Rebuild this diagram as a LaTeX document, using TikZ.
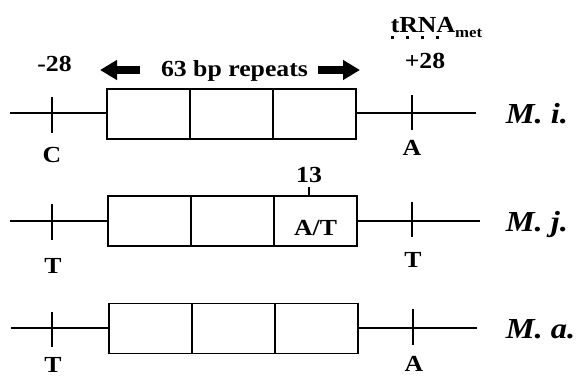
\documentclass[tikz,border=0pt]{standalone}
\usepackage{fontspec}
\setmainfont{Liberation Serif}[FakeStretch=1.12]
\usetikzlibrary{arrows.meta}
\newcommand{\lbfont}{\fontsize{23}{25}\selectfont\bfseries}
\newcommand{\spfont}{\fontsize{29}{31}\selectfont\bfseries\itshape}
\begin{document}
\begin{tikzpicture}[x=1pt,y=-1pt,line width=1.6pt,
  seg/.style={draw,fill=white,rectangle,minimum width=83pt,minimum height=50pt,inner sep=0pt},
  lbl/.style={font=\lbfont,inner sep=0pt,anchor=base},
  sp/.style={font=\spfont,inner sep=0pt,anchor=base west},
  bigarrow/.style={line width=8pt,-{Triangle[length=17pt,width=19pt]}},
  dotline/.style={line width=3pt,dash pattern=on 3pt off 12pt}]
\useasboundingbox (0,0) rectangle (587,376);

% ---------- top labels ----------
\node[lbl] (m28) at (54.5,71) {-28};
\node[lbl] (rep) at (234.5,76) {63 bp repeats};
\coordinate (la0) at (100,70); \coordinate (la1) at (140,70);
\coordinate (ra0) at (318,70); \coordinate (ra1) at (360,70);
\draw[bigarrow] (la1) -- (la0);
\draw[bigarrow] (ra0) -- (ra1);
\node[lbl] (p28) at (425,68) {+28};
\node[lbl,anchor=base west] (trna) at (390,32) {tRNA\raisebox{-5pt}{\fontsize{15}{16}\selectfont met}};
\coordinate (d0) at (390.5,37.5); \coordinate (d1) at (440,37.5);
\draw[dotline] (d0) -- (d1);

% ---------- row 1: M. i. ----------
\coordinate (s1) at (10,113); \coordinate (e1) at (476,113);
\draw (s1) -- (e1);
\node[seg] (a1) at (148.5,114) {};
\node[seg] (b1) at (231.5,114) {};
\node[seg] (c1) at (314.5,114) {};
\coordinate (t1a) at (52,97);  \coordinate (t1b) at (52,133);
\coordinate (u1a) at (412,95); \coordinate (u1b) at (412,130);
\draw (t1a) -- (t1b);
\draw (u1a) -- (u1b);
\node[lbl] (c1l) at (52,162) {C};
\node[lbl] (a1l) at (412,155) {A};
\node[sp] (mi) at (505,123) {M. i.};

% ---------- row 2: M. j. ----------
\coordinate (s2) at (10,221); \coordinate (e2) at (480,221);
\draw (s2) -- (e2);
\node[seg] (a2) at (149.5,221) {};
\node[seg] (b2) at (232.5,221) {};
\node[seg] (c2) at (315.5,221) {};
\coordinate (t2a) at (52,204);  \coordinate (t2b) at (52,240);
\coordinate (u2a) at (412,202); \coordinate (u2b) at (412,237);
\draw (t2a) -- (t2b);
\draw (u2a) -- (u2b);
\node[lbl] (at) at (315.5,235) {A/T};
\coordinate (k13a) at (309,196); \coordinate (k13b) at (309,187);
\draw[line width=1.2pt] (k13a) -- (k13b);
\node[lbl] (n13) at (309,182) {13};
\node[lbl] (t2l) at (53,273) {T};
\node[lbl] (u2l) at (413,267) {T};
\node[sp] (mj) at (505,231) {M. j.};

% ---------- row 3: M. a. ----------
\coordinate (s3) at (11,328); \coordinate (e3) at (477,328);
\draw (s3) -- (e3);
\node[seg] (a3) at (150.5,328.5) {};
\node[seg] (b3) at (233.5,328.5) {};
\node[seg] (c3) at (316.5,328.5) {};
\coordinate (t3a) at (52,312);  \coordinate (t3b) at (52,347);
\coordinate (u3a) at (413,309); \coordinate (u3b) at (413,345);
\draw (t3a) -- (t3b);
\draw (u3a) -- (u3b);
\node[lbl] (t3l) at (53,372) {T};
\node[lbl] (u3l) at (414,371) {A};
\node[sp] (ma) at (505,338) {M. a.};
\end{tikzpicture}
\end{document}
